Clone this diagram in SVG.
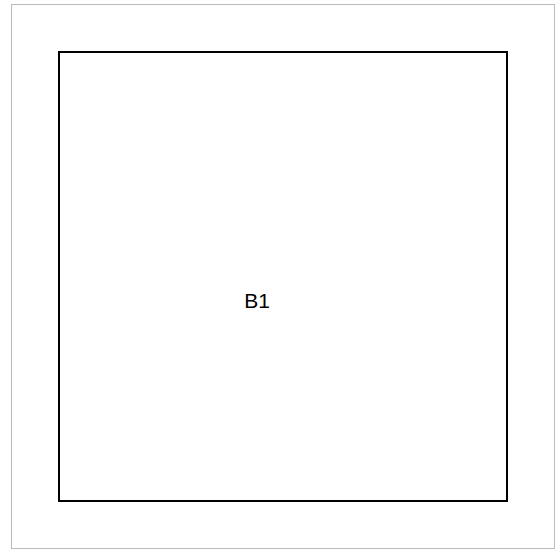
<svg xmlns="http://www.w3.org/2000/svg" width="558" height="550" viewBox="0 0 558 550">
<style>
.frame{fill:none;stroke:#777;stroke-width:1;stroke-dasharray:1 1}
.node{fill:#fff;stroke:#000;stroke-width:2}
.label{font-family:"Liberation Sans",Arial,sans-serif;font-size:21px;fill:#000}
</style>
<rect width="558" height="550" fill="#fff"/>
<rect class="frame" x="11.5" y="4.5" width="543" height="544"/>
<g id="B1">
<rect class="node" x="59" y="52" width="448" height="449"/>
<text class="label" x="257" y="308" text-anchor="middle">B1</text>
</g>
<g id="connectors"></g>
</svg>
